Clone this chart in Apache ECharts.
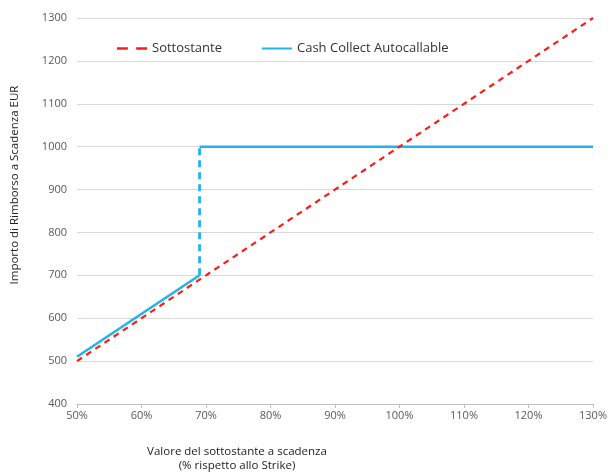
<!DOCTYPE html>
<html><head><meta charset="utf-8">
<script src="https://cdn.jsdelivr.net/npm/echarts@6/dist/echarts.min.js"></script>
<style>html,body{margin:0;padding:0;background:#fff}#c{width:610px;height:472px}</style>
</head><body><div id="c"></div>
<script>
const underlyingX = [50, 130];
const underlyingY = [500, 1300];
const productLowX = [50, 69];
const productLowY = [510, 700];
const barrierX = [69, 69];
const barrierY = [700, 1000];
const productHighX = [69, 130];
const productHighY = [1000, 1000];
const xTicks = [50, 60, 70, 80, 90, 100, 110, 120, 130];
const yTicks = [400, 500, 600, 700, 800, 900, 1000, 1100, 1200, 1300];

const pair = (xs, ys) => xs.map((x, i) => [x, ys[i]]);
const font = 'Open Sans';
const chart = echarts.init(document.getElementById('c'));
chart.setOption({
  animation: false,
  textStyle: { fontFamily: font },
  grid: { left: 77, right: 15, top: 18, bottom: 68 },
  legend: {
    left: 112, top: 37, itemWidth: 30, itemHeight: 2.5, itemGap: 40,
    data: [
      { name: 'Sottostante', icon: 'path://M0,0H9V2H0Z M16,0H25V2H16Z', itemStyle: { color: '#ff1a1a' } },
      { name: 'Cash Collect Autocallable', icon: 'path://M0,0H30V2H0Z', itemStyle: { color: '#1fb4ea' } }
    ],
    textStyle: { fontFamily: font, fontSize: 13, color: '#333' }
  },
  xAxis: {
    type: 'value', min: xTicks[0], max: xTicks[xTicks.length - 1], interval: 10,
    axisLine: { show: true, lineStyle: { color: '#bfbfbf' } },
    axisTick: { show: true, length: 4, lineStyle: { color: '#bfbfbf' } },
    splitLine: { show: false },
    axisLabel: { formatter: '{value}%', color: '#595959', fontSize: 11, margin: 6, fontFamily: font }
  },
  yAxis: {
    type: 'value', min: yTicks[0], max: yTicks[yTicks.length - 1], interval: 100,
    axisLine: { show: false }, axisTick: { show: false },
    splitLine: { lineStyle: { color: '#d9d9d9', width: 1 } },
    axisLabel: { formatter: v => String(v), color: '#595959', fontSize: 11, margin: 10, fontFamily: font }
  },
  graphic: [
    { type: 'text', x: 15, y: 185, rotation: Math.PI / 2, style: {
      text: 'Importo di Rimborso a Scadenza EUR', fill: '#222', fontSize: 11.5, fontFamily: font,
      align: 'center', verticalAlign: 'middle' } },
    { type: 'text', x: 237, y: 459, style: {
      text: 'Valore del sottostante a scadenza\n(% rispetto allo Strike)', fill: '#222', fontSize: 11.5,
      fontFamily: font, align: 'center', verticalAlign: 'middle', lineHeight: 14 } }
  ],
  series: [
    { name: 'Sottostante', type: 'line', symbol: 'none', data: pair(underlyingX, underlyingY),
      lineStyle: { color: '#ff1a1a', width: 2.2, type: [6, 5] }, itemStyle: { color: '#ff1a1a' }, z: 3 },
    { name: 'Cash Collect Autocallable', type: 'line', symbol: 'none', data: pair(productLowX, productLowY),
      lineStyle: { color: '#1fb4ea', width: 2.5 }, itemStyle: { color: '#1fb4ea' }, z: 2 },
    { name: 'Barriera', type: 'line', symbol: 'none', data: pair(barrierX, barrierY),
      lineStyle: { color: '#1fb4ea', width: 2.8, type: [7, 5] }, itemStyle: { color: '#1fb4ea' }, z: 2 },
    { name: 'Cash Collect Autocallable', type: 'line', symbol: 'none', data: pair(productHighX, productHighY),
      lineStyle: { color: '#1fb4ea', width: 2.5 }, itemStyle: { color: '#1fb4ea' }, z: 2 }
  ]
});
</script></body></html>
